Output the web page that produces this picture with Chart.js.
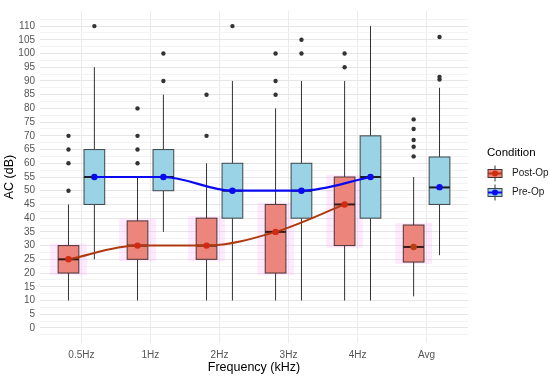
<!DOCTYPE html>
<html>
<head>
<meta charset="utf-8">
<script src="https://cdn.jsdelivr.net/npm/chart.js@4.4.0/dist/chart.umd.min.js"></script>
<style>
  html, body { margin: 0; padding: 0; background: #fff; }
</style>
</head>
<body>
<canvas id="chart" width="550" height="380"></canvas>
<script>
// values
const categories = ['0.5Hz', '1Hz', '2Hz', '3Hz', '4Hz', 'Avg'];

const postMin = [10, 10, 10, 10, 10, 11.5];
const postQ1 = [20, 25, 25, 20, 30, 24];
const postMedian = [25, 30, 30, 35, 45, 29.5];
const postQ3 = [30, 39, 40, 45, 55, 37.5];
const postMax = [45, 55, 60, 80, 90, 55];
const postOutliers = [[50, 60, 65, 70], [60, 65, 70, 80], [70, 85], [85, 90, 100], [95, 100], [62.5, 66, 68.5, 72.5, 76]];
const postMean = [25, 30, 30, 35, 45, 29.5];

const preMin = [25, 35, 10, 10, 10, 26.5];
const preQ1 = [45, 50, 40, 40, 40, 45];
const preMedian = [55, 55, 50, 50, 55, 51.2];
const preQ3 = [65, 65, 60, 60, 70, 62.3];
const preMax = [95, 85, 90, 90, 110, 87.5];
const preOutliers = [[110], [90, 100], [110], [100, 105], [], [90.5, 91.5, 106]];
const preMean = [55, 55, 50, 50, 55, 51.3];

const yTicks = [0, 5, 10, 15, 20, 25, 30, 35, 40, 45, 50, 55, 60, 65, 70, 75, 80, 85, 90, 95, 100, 105, 110];

const DODGE = 0.1875;
const BOX_W = 0.3;
const FONT = '"Liberation Sans", Arial, sans-serif';

const groups = [
  { name: 'Post-Op', off: -DODGE, min: postMin, q1: postQ1, med: postMedian, q3: postQ3, max: postMax, out: postOutliers,
    fill: '#EC857C', border: '#4a3232', medColor: '#3a1a1a', halo: 'rgba(255,160,255,0.22)', line: '#B03A10', point: '#D42A14' },
  { name: 'Pre-Op', off: DODGE, min: preMin, q1: preQ1, med: preMedian, q3: preQ3, max: preMax, out: preOutliers,
    fill: '#99D3E5', border: '#3d4448', medColor: '#1e1e1e', halo: null, line: '#0A0AF0', point: '#0A0AF0' }
];

function meanLine(mean, off) {
  return categories.slice(0, 5).map((c, i) => ({ x: i + off, y: mean[i] }));
}

const boxPlugin = {
  id: 'boxes',
  beforeDatasetsDraw(chart) {
    const { ctx, chartArea, scales: { x, y } } = chart;
    const half = (x.getPixelForValue(BOX_W) - x.getPixelForValue(0)) / 2;
    ctx.save();
    ctx.beginPath();
    ctx.rect(chartArea.left, chartArea.top, chartArea.width, chartArea.height);
    ctx.clip();
    groups.forEach(g => {
      categories.forEach((c, i) => {
        const cx = x.getPixelForValue(i + g.off);
        const yq1 = y.getPixelForValue(g.q1[i]);
        const yq3 = y.getPixelForValue(g.q3[i]);
        if (g.halo) {
          ctx.fillStyle = g.halo;
          ctx.fillRect(cx - half - 8, yq3 - 2, half * 2 + 16, yq1 - yq3 + 4);
        }
        // whiskers
        ctx.strokeStyle = '#333';
        ctx.lineWidth = 1;
        ctx.beginPath();
        ctx.moveTo(cx, y.getPixelForValue(g.min[i]));
        ctx.lineTo(cx, yq1);
        ctx.moveTo(cx, yq3);
        ctx.lineTo(cx, y.getPixelForValue(g.max[i]));
        ctx.stroke();
        // box
        ctx.fillStyle = g.fill;
        ctx.fillRect(cx - half, yq3, half * 2, yq1 - yq3);
        ctx.strokeStyle = g.border;
        ctx.strokeRect(cx - half, yq3, half * 2, yq1 - yq3);
        // median
        const ym = y.getPixelForValue(g.med[i]);
        ctx.strokeStyle = g.medColor;
        ctx.lineWidth = 2;
        ctx.beginPath();
        ctx.moveTo(cx - half, ym);
        ctx.lineTo(cx + half, ym);
        ctx.stroke();
        // outliers
        ctx.fillStyle = '#333';
        g.out[i].forEach(v => {
          ctx.beginPath();
          ctx.arc(cx, y.getPixelForValue(v), 2.2, 0, Math.PI * 2);
          ctx.fill();
        });
      });
    });
    ctx.restore();
  },
  afterDraw(chart) {
    const { ctx } = chart;
    ctx.save();
    ctx.fillStyle = '#000';
    ctx.font = '11.5px ' + FONT;
    ctx.textBaseline = 'middle';
    ctx.textAlign = 'left';
    ctx.fillText('Condition', 487, 153);
    groups.forEach((g, k) => {
      const cy = 173.5 + k * 19;
      const lx = 488, w = 14;
      ctx.strokeStyle = '#333';
      ctx.lineWidth = 1;
      ctx.beginPath();
      ctx.moveTo(lx + w / 2, cy - 8);
      ctx.lineTo(lx + w / 2, cy + 8);
      ctx.stroke();
      ctx.fillStyle = g.fill;
      ctx.fillRect(lx, cy - 4, w, 8);
      ctx.strokeStyle = g.border;
      ctx.strokeRect(lx, cy - 4, w, 8);
      ctx.strokeStyle = g.line;
      ctx.lineWidth = 2;
      ctx.beginPath();
      ctx.moveTo(lx, cy);
      ctx.lineTo(lx + w, cy);
      ctx.stroke();
      ctx.fillStyle = g.point;
      ctx.beginPath();
      ctx.arc(lx + w / 2, cy, 3, 0, Math.PI * 2);
      ctx.fill();
      ctx.fillStyle = '#1a1a1a';
      ctx.font = '10px ' + FONT;
      ctx.fillText(g.name, 512, cy);
    });
    ctx.restore();
  }
};

new Chart(document.getElementById('chart'), {
  type: 'line',
  data: {
    datasets: [
      { data: meanLine(postMean, -DODGE), borderColor: groups[0].line, backgroundColor: groups[0].point, pointBackgroundColor: groups[0].point,
        pointBorderWidth: 0, pointRadius: 3.2, borderWidth: 2, cubicInterpolationMode: 'monotone' },
      { data: meanLine(preMean, DODGE), borderColor: groups[1].line, backgroundColor: groups[1].point, pointBackgroundColor: groups[1].point,
        pointBorderWidth: 0, pointRadius: 3.2, borderWidth: 2.2, cubicInterpolationMode: 'monotone' },
      { data: [{ x: 5 - DODGE, y: postMean[5] }], showLine: false, pointBackgroundColor: '#B8400E', pointBorderWidth: 0, pointRadius: 3.2 },
      { data: [{ x: 5 + DODGE, y: preMean[5] }], showLine: false, pointBackgroundColor: groups[1].point, pointBorderWidth: 0, pointRadius: 3.2 }
    ]
  },
  options: {
    responsive: false,
    animation: false,
    devicePixelRatio: 1,
    layout: { padding: { top: 4, right: 82, left: 0, bottom: 0 } },
    plugins: { legend: { display: false }, tooltip: { enabled: false } },
    scales: {
      x: {
        type: 'linear',
        min: -0.6,
        max: 5.6,
        afterBuildTicks: s => { s.ticks = categories.map((c, i) => ({ value: i })); },
        afterFit: s => { s.height = 37; },
        border: { display: false },
        grid: { color: '#ebebeb', drawTicks: false },
        ticks: {
          autoSkip: false, maxRotation: 0, padding: 6, color: '#555',
          font: { family: FONT, size: 10 },
          callback: v => categories[v]
        },
        title: { display: true, text: 'Frequency (kHz)', color: '#000', font: { family: FONT, size: 12.5 }, padding: { top: 0, bottom: 5 } }
      },
      y: {
        min: -5.5,
        max: 115.5,
        afterBuildTicks: s => {
          const t = [];
          for (let v = -2.5; v <= 112.5; v += 2.5) t.push({ value: v });
          s.ticks = t;
        },
        afterFit: s => { s.width = 40; },
        border: { display: false },
        grid: {
          drawTicks: false,
          color: c => (yTicks.includes(c.tick.value) ? '#e6e6e6' : '#f3f3f3')
        },
        ticks: {
          autoSkip: false, padding: 5, color: '#555',
          font: { family: FONT, size: 10 },
          callback: v => (yTicks.includes(v) ? String(v) : '')
        },
        title: { display: true, text: 'AC (dB)', color: '#000', font: { family: FONT, size: 12.5 }, padding: { top: 2 } }
      }
    }
  },
  plugins: [boxPlugin]
});
</script>
</body>
</html>
